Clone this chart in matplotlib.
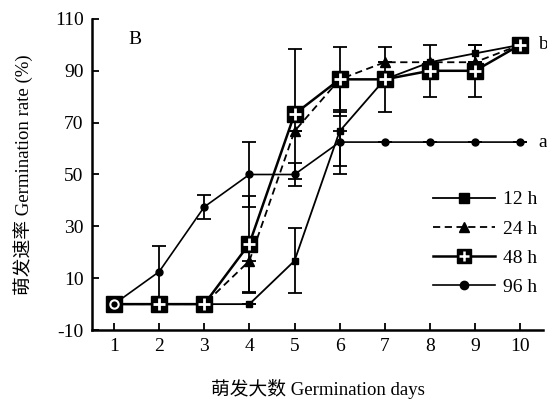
import numpy as np
import matplotlib.pyplot as plt
from matplotlib.lines import Line2D
from matplotlib.legend_handler import HandlerTuple

plt.rcParams['font.family'] = ['Liberation Serif', 'Noto Sans CJK SC']
plt.rcParams['axes.unicode_minus'] = False

days = [1, 2, 3, 4, 5, 6, 7, 8, 9, 10]
labels = ['12 h', '24 h', '48 h', '96 h']

rate_12h = [0, 0, 0, 0, 16.7, 66.7, 86.7, 93.3, 96.7, 100]
lo_12h = [0, 0, 0, 0, 12.5, 13.4, 0, 0, 3.3, 0]
hi_12h = [0, 0, 0, 0, 12.5, 0, 0, 0, 3.3, 0]

rate_24h = [0, 0, 0, 16.7, 66.7, 86.7, 93.3, 93.3, 93.3, 100]
lo_24h = [0, 0, 0, 12.5, 0, 14, 0, 0, 0, 0]
hi_24h = [0, 0, 0, 0, 0, 0, 0, 0, 0, 0]

rate_48h = [0, 0, 0, 23.3, 73.3, 86.7, 86.7, 90, 90, 100]
err_48h = [0, 0, 0, 18.5, 25, 12.5, 12.5, 10, 10, 0]

rate_96h = [0, 12.5, 37.5, 50, 50, 62.5, 62.5, 62.5, 62.5, 62.5]
err_96h = [0, 10, 4.5, 12.5, 4.5, 12.5, 0, 0, 0, 0]

fig = plt.figure(figsize=(5.47, 4.03), dpi=100)
ax = fig.add_axes([0.168, 0.181, 0.825, 0.772])

ebkw = dict(ecolor='black', elinewidth=1.3, capsize=5, capthick=1.3)

ax.errorbar(days, rate_96h, yerr=err_96h, color='black', lw=1.2, marker='o',
            ms=5, zorder=2, **ebkw)
ax.errorbar(days, rate_12h, yerr=[lo_12h, hi_12h], color='black', lw=1.3,
            marker='s', ms=5, zorder=3, **ebkw)
ax.errorbar(days, rate_24h, yerr=[lo_24h, hi_24h], color='black', lw=1.3,
            ls=(0, (4, 2.5)), marker='^', ms=7, zorder=3, **ebkw)
ax.errorbar(days, rate_48h, yerr=err_48h, color='black', lw=1.8, marker='s',
            ms=11.5, zorder=4, **ebkw)
# white crosses inside the 48 h squares
ax.plot(days[1:], rate_48h[1:], ls='none', marker='+', ms=8, mew=2,
        color='white', zorder=5)
# white ring on the first point
ax.plot(days[:1], rate_96h[:1], ls='none', marker='o', ms=6, mfc='none',
        mec='white', mew=1.5, zorder=5)

ax.set_xlim(0.51, 10.51)
ax.set_ylim(-10, 110)
ax.set_xticks(days)
ax.set_yticks(np.arange(-10, 111, 20))
ax.tick_params(direction='in', length=5, width=1.3, labelsize=14, pad=6)
for s in ['top', 'right']:
    ax.spines[s].set_visible(False)
for s in ['left', 'bottom']:
    ax.spines[s].set_linewidth(1.8)

ax.set_xlabel('萌发大数 Germination days', fontsize=13.5, labelpad=17)
ax.set_ylabel('萌发速率 Germination rate (%)', fontsize=13.5, labelpad=16)

ax.text(0.08, 0.92, 'B', transform=ax.transAxes, fontsize=14)
ax.text(10.4, rate_96h[-1], 'a', fontsize=14, va='center', clip_on=False)
ax.text(10.4, rate_48h[-1], 'b', fontsize=14, va='center', clip_on=False)

h12 = Line2D([], [], color='black', lw=1.3, marker='s', ms=7)
h24 = Line2D([], [], color='black', lw=1.3, ls=(0, (4, 2.5)), marker='^', ms=7)
h48 = (Line2D([], [], color='black', lw=1.8, marker='s', ms=9.5),
       Line2D([], [], ls='none', marker='+', ms=6.5, mew=1.8, color='white'))
h96 = Line2D([], [], color='black', lw=1.2, marker='o', ms=6)
ax.legend([h12, h24, h48, h96], labels, loc='center left',
          bbox_to_anchor=(0.756, 0.278), frameon=False, fontsize=14,
          handlelength=3.2, handletextpad=0.4, labelspacing=0.6,
          borderpad=0, borderaxespad=0,
          handler_map={tuple: HandlerTuple(ndivide=1, pad=0)})

fig.savefig('out.png', dpi=100)
